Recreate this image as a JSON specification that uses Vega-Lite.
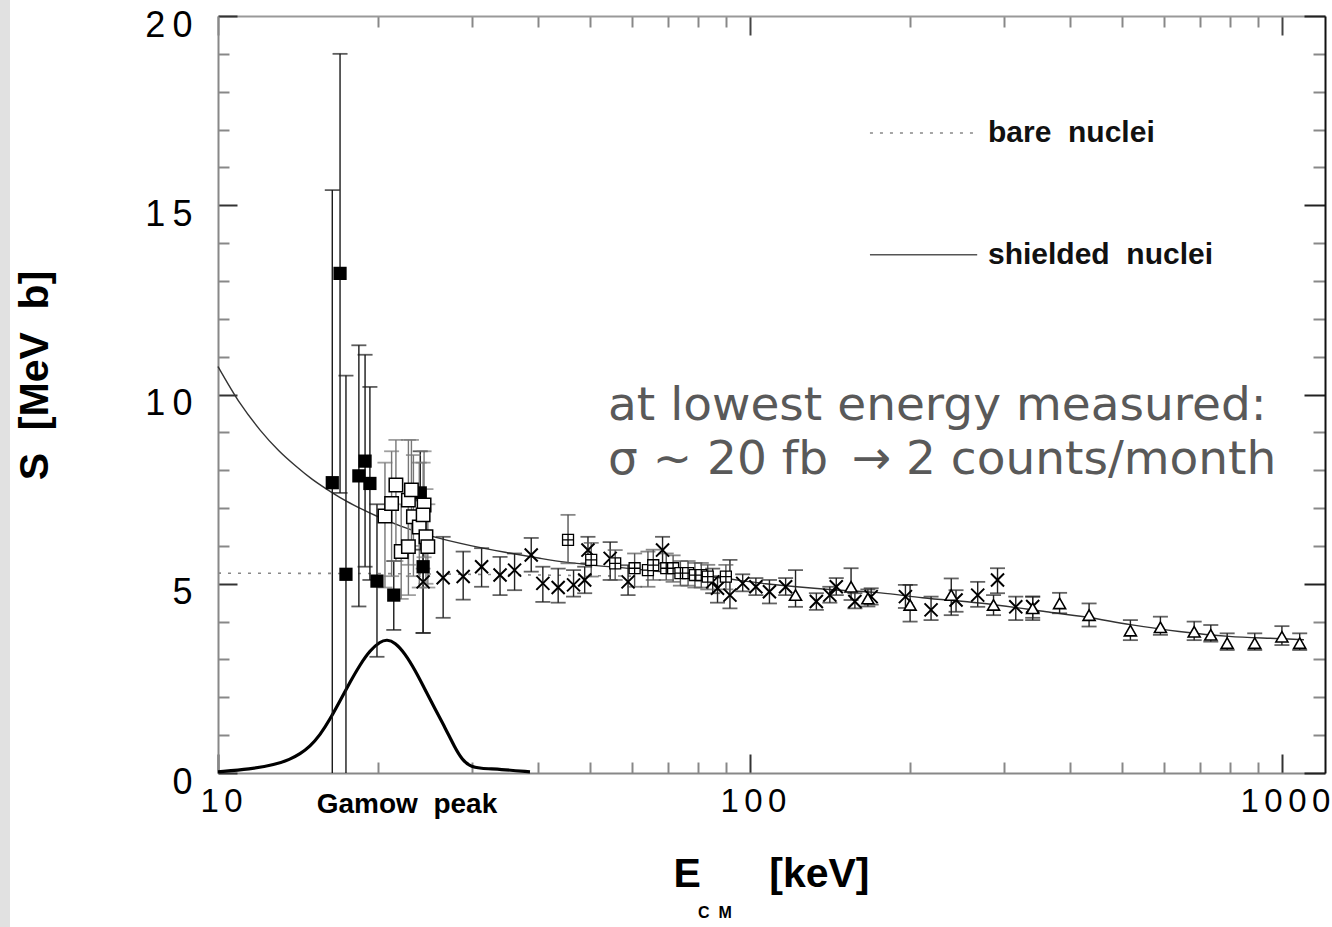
{
  "$schema": "https://vega.github.io/schema/vega-lite/v6.json",
  "width": 1107,
  "height": 757,
  "autosize": {"type": "none"},
  "padding": {"left": 218, "top": 16, "right": 7, "bottom": 154},
  "background": "#e1e1e1",
  "config": {"view": {"stroke": "#ffffff", "strokeWidth": 416, "fill": "#ffffff"}, "axis": {"grid": false}},
  "datasets": {
    "pts": [
      {"E": 16.4, "S": 7.67, "lo": -1, "hi": 15.4, "kind": "filled"},
      {"E": 16.96, "S": 13.2, "lo": 7.4, "hi": 19.0, "kind": "filled"},
      {"E": 17.4, "S": 5.25, "lo": -1, "hi": 10.5, "kind": "filled"},
      {"E": 18.4, "S": 7.85, "lo": 4.4, "hi": 11.3, "kind": "filled"},
      {"E": 18.9, "S": 8.24, "lo": 5.45, "hi": 11.05, "kind": "filled"},
      {"E": 19.3, "S": 7.65, "lo": 5.1, "hi": 10.2, "kind": "filled"},
      {"E": 19.9, "S": 5.07, "lo": 3.07, "hi": 7.1, "kind": "filled"},
      {"E": 21.4, "S": 4.7, "lo": 3.78, "hi": 5.6, "kind": "filled"},
      {"E": 24.3, "S": 5.45, "lo": 3.7, "hi": 7.2, "kind": "filled"},
      {"E": 24.0, "S": 7.4, "lo": 5.9, "hi": 8.5, "kind": "filled"},
      {"E": 20.6, "S": 6.79, "lo": 4.9, "hi": 8.2, "kind": "open"},
      {"E": 21.2, "S": 7.12, "lo": 5.2, "hi": 8.5, "kind": "open"},
      {"E": 21.6, "S": 7.61, "lo": 5.6, "hi": 8.8, "kind": "open"},
      {"E": 22.1, "S": 5.85, "lo": 4.6, "hi": 7.1, "kind": "open"},
      {"E": 22.8, "S": 7.21, "lo": 5.5, "hi": 8.8, "kind": "open"},
      {"E": 22.8, "S": 5.98, "lo": 4.7, "hi": 7.3, "kind": "open"},
      {"E": 23.1, "S": 7.48, "lo": 6.0, "hi": 8.8, "kind": "open"},
      {"E": 23.3, "S": 6.77, "lo": 5.2, "hi": 8.4, "kind": "open"},
      {"E": 23.9, "S": 6.5, "lo": 4.9, "hi": 8.2, "kind": "open"},
      {"E": 24.4, "S": 7.08, "lo": 5.7, "hi": 8.5, "kind": "open"},
      {"E": 24.3, "S": 6.82, "lo": 5.4, "hi": 8.2, "kind": "open"},
      {"E": 24.6, "S": 6.24, "lo": 5.0, "hi": 7.5, "kind": "open"},
      {"E": 24.8, "S": 5.98, "lo": 4.9, "hi": 7.1, "kind": "open"},
      {"E": 24.3, "S": 5.05, "lo": 3.7, "hi": 6.4, "kind": "cross"},
      {"E": 26.5, "S": 5.16, "lo": 4.1, "hi": 6.24, "kind": "cross"},
      {"E": 28.9, "S": 5.19, "lo": 4.58, "hi": 5.85, "kind": "cross"},
      {"E": 31.3, "S": 5.45, "lo": 4.92, "hi": 5.94, "kind": "cross"},
      {"E": 33.9, "S": 5.23, "lo": 4.7, "hi": 5.71, "kind": "cross"},
      {"E": 36.1, "S": 5.36, "lo": 4.83, "hi": 5.8, "kind": "cross"},
      {"E": 38.8, "S": 5.76, "lo": 5.32, "hi": 6.21, "kind": "cross"},
      {"E": 40.8, "S": 5.01, "lo": 4.52, "hi": 5.45, "kind": "cross"},
      {"E": 43.6, "S": 4.9, "lo": 4.5, "hi": 5.4, "kind": "cross"},
      {"E": 46.6, "S": 4.97, "lo": 4.66, "hi": 5.36, "kind": "cross"},
      {"E": 48.9, "S": 5.1, "lo": 4.75, "hi": 5.45, "kind": "cross"},
      {"E": 49.6, "S": 5.89, "lo": 5.54, "hi": 6.24, "kind": "cross"},
      {"E": 54.6, "S": 5.67, "lo": 5.1, "hi": 6.1, "kind": "cross"},
      {"E": 59.0, "S": 5.05, "lo": 4.7, "hi": 5.49, "kind": "cross"},
      {"E": 68.5, "S": 5.89, "lo": 5.54, "hi": 6.24, "kind": "cross"},
      {"E": 85.1, "S": 5.05, "lo": 4.75, "hi": 5.4, "kind": "cross"},
      {"E": 86.9, "S": 4.88, "lo": 4.5, "hi": 5.2, "kind": "cross"},
      {"E": 91.7, "S": 4.7, "lo": 4.35, "hi": 5.63, "kind": "cross"},
      {"E": 96.9, "S": 5.01, "lo": 4.8, "hi": 5.25, "kind": "cross"},
      {"E": 102.6, "S": 4.92, "lo": 4.7, "hi": 5.15, "kind": "cross"},
      {"E": 108.8, "S": 4.79, "lo": 4.48, "hi": 5.1, "kind": "cross"},
      {"E": 116.7, "S": 4.92, "lo": 4.7, "hi": 5.15, "kind": "cross"},
      {"E": 133.3, "S": 4.53, "lo": 4.31, "hi": 4.75, "kind": "cross"},
      {"E": 141.3, "S": 4.7, "lo": 4.5, "hi": 4.92, "kind": "cross"},
      {"E": 145.3, "S": 4.92, "lo": 4.7, "hi": 5.15, "kind": "cross"},
      {"E": 157.5, "S": 4.53, "lo": 4.35, "hi": 4.75, "kind": "cross"},
      {"E": 169, "S": 4.66, "lo": 4.45, "hi": 4.88, "kind": "cross"},
      {"E": 196, "S": 4.66, "lo": 4.36, "hi": 4.97, "kind": "cross"},
      {"E": 219, "S": 4.31, "lo": 4.04, "hi": 4.66, "kind": "cross"},
      {"E": 244, "S": 4.57, "lo": 4.26, "hi": 4.83, "kind": "cross"},
      {"E": 268, "S": 4.7, "lo": 4.39, "hi": 5.05, "kind": "cross"},
      {"E": 292, "S": 5.1, "lo": 4.75, "hi": 5.41, "kind": "cross"},
      {"E": 316, "S": 4.39, "lo": 4.04, "hi": 4.66, "kind": "cross"},
      {"E": 340, "S": 4.4, "lo": 4.1, "hi": 4.66, "kind": "cross"},
      {"E": 45.5, "S": 6.16, "lo": 5.54, "hi": 6.82, "kind": "boxed"},
      {"E": 50.3, "S": 5.63, "lo": 5.19, "hi": 6.08, "kind": "boxed"},
      {"E": 55.8, "S": 5.54, "lo": 5.1, "hi": 5.89, "kind": "boxed"},
      {"E": 60.7, "S": 5.41, "lo": 4.92, "hi": 5.8, "kind": "boxed"},
      {"E": 64.3, "S": 5.36, "lo": 4.92, "hi": 5.85, "kind": "boxed"},
      {"E": 65.8, "S": 5.49, "lo": 5.1, "hi": 5.9, "kind": "boxed"},
      {"E": 69.6, "S": 5.41, "lo": 5.1, "hi": 5.8, "kind": "boxed"},
      {"E": 71.7, "S": 5.41, "lo": 5.05, "hi": 5.75, "kind": "boxed"},
      {"E": 74.0, "S": 5.28, "lo": 4.95, "hi": 5.6, "kind": "boxed"},
      {"E": 76.5, "S": 5.28, "lo": 4.95, "hi": 5.6, "kind": "boxed"},
      {"E": 78.8, "S": 5.23, "lo": 4.9, "hi": 5.55, "kind": "boxed"},
      {"E": 81.0, "S": 5.23, "lo": 4.9, "hi": 5.55, "kind": "boxed"},
      {"E": 83.3, "S": 5.19, "lo": 4.85, "hi": 5.5, "kind": "boxed"},
      {"E": 90.1, "S": 5.19, "lo": 4.85, "hi": 5.5, "kind": "boxed"},
      {"E": 121.8, "S": 4.7, "lo": 4.39, "hi": 5.36, "kind": "tri"},
      {"E": 154.9, "S": 4.92, "lo": 4.57, "hi": 5.41, "kind": "tri"},
      {"E": 166.6, "S": 4.61, "lo": 4.4, "hi": 4.85, "kind": "tri"},
      {"E": 200, "S": 4.44, "lo": 4.0, "hi": 4.97, "kind": "tri"},
      {"E": 239, "S": 4.7, "lo": 4.17, "hi": 5.14, "kind": "tri"},
      {"E": 287, "S": 4.44, "lo": 4.17, "hi": 4.7, "kind": "tri"},
      {"E": 340, "S": 4.35, "lo": 4.04, "hi": 4.66, "kind": "tri"},
      {"E": 382, "S": 4.48, "lo": 4.22, "hi": 4.76, "kind": "tri"},
      {"E": 434, "S": 4.17, "lo": 3.87, "hi": 4.48, "kind": "tri"},
      {"E": 519, "S": 3.76, "lo": 3.51, "hi": 4.04, "kind": "tri"},
      {"E": 591, "S": 3.85, "lo": 3.65, "hi": 4.13, "kind": "tri"},
      {"E": 684, "S": 3.73, "lo": 3.51, "hi": 4.0, "kind": "tri"},
      {"E": 735, "S": 3.65, "lo": 3.47, "hi": 3.91, "kind": "tri"},
      {"E": 789, "S": 3.43, "lo": 3.25, "hi": 3.69, "kind": "tri"},
      {"E": 889, "S": 3.43, "lo": 3.25, "hi": 3.69, "kind": "tri"},
      {"E": 1000, "S": 3.6, "lo": 3.38, "hi": 3.88, "kind": "tri"},
      {"E": 1080, "S": 3.43, "lo": 3.25, "hi": 3.69, "kind": "tri"}
    ],
    "bare": [
      {"E": 10, "S": 5.28}, {"E": 20, "S": 5.27}, {"E": 35, "S": 5.24}, {"E": 60, "S": 5.2}
    ],
    "shield": [
      {"E": 10, "S": 10.74}, {"E": 11, "S": 9.77}, {"E": 12, "S": 9.06}, {"E": 13, "S": 8.52},
      {"E": 14, "S": 8.11}, {"E": 15, "S": 7.77}, {"E": 16, "S": 7.5}, {"E": 17, "S": 7.27},
      {"E": 18, "S": 7.08}, {"E": 20, "S": 6.77}, {"E": 22, "S": 6.53}, {"E": 25, "S": 6.27},
      {"E": 30, "S": 6.0}, {"E": 35, "S": 5.82}, {"E": 40, "S": 5.68}, {"E": 45, "S": 5.57},
      {"E": 50, "S": 5.5}, {"E": 60, "S": 5.4}, {"E": 70, "S": 5.3}, {"E": 86, "S": 5.17},
      {"E": 107, "S": 5.0}, {"E": 143, "S": 4.84}, {"E": 176, "S": 4.76}, {"E": 211, "S": 4.63},
      {"E": 270, "S": 4.49}, {"E": 361, "S": 4.26}, {"E": 428, "S": 4.12}, {"E": 519, "S": 3.92},
      {"E": 641, "S": 3.74}, {"E": 795, "S": 3.61}, {"E": 991, "S": 3.55}, {"E": 1100, "S": 3.52}
    ],
    "gamow": [
      {"E": 10, "G": 0.03}, {"E": 11.49, "G": 0.1}, {"E": 12.8, "G": 0.22}, {"E": 13.66, "G": 0.36},
      {"E": 14.26, "G": 0.5}, {"E": 14.89, "G": 0.7}, {"E": 15.55, "G": 1.0}, {"E": 16.24, "G": 1.42},
      {"E": 16.96, "G": 1.91}, {"E": 17.71, "G": 2.4}, {"E": 18.49, "G": 2.86}, {"E": 19.31, "G": 3.24},
      {"E": 20.16, "G": 3.47}, {"E": 20.78, "G": 3.53}, {"E": 21.51, "G": 3.45}, {"E": 22.46, "G": 3.16},
      {"E": 23.46, "G": 2.72}, {"E": 24.5, "G": 2.21}, {"E": 25.58, "G": 1.69}, {"E": 26.72, "G": 1.2},
      {"E": 27.9, "G": 0.66}, {"E": 28.75, "G": 0.36}, {"E": 29.77, "G": 0.17}, {"E": 31.09, "G": 0.12},
      {"E": 33.89, "G": 0.1}, {"E": 38.59, "G": 0.03}
    ]
  },
  "layer": [
    {
      "data": {"name": "bare"},
      "mark": {"type": "line", "color": "#888888", "strokeWidth": 1.6, "strokeDash": [3, 7]},
      "encoding": {
        "x": {
          "field": "E", "type": "quantitative",
          "scale": {"type": "log", "domain": [10, 1205], "nice": false},
          "axis": {
            "orient": "bottom",
            "values": [10, 20, 30, 40, 50, 60, 70, 80, 90, 100, 200, 300, 400, 500, 600, 700, 800, 900, 1000],
            "tickSize": {"condition": {"test": "datum.value == 10 || datum.value == 100 || datum.value == 1000", "value": -19}, "value": -11},
            "tickColor": {"condition": {"test": "datum.value == 10 || datum.value == 100 || datum.value == 1000", "value": "#333333"}, "value": "#888888"},
            "tickWidth": 2,
            "domainColor": "#888888",
            "domainWidth": 2,
            "labelExpr": "datum.value == 10 ? '1\u20060' : datum.value == 100 ? '1\u20060\u20060' : datum.value == 1000 ? '1\u20060\u20060\u20060' : ''",
            "labelFont": "Liberation Sans",
            "labelFontSize": 33,
            "labelColor": "#000000",
            "labelBaseline": "middle",
            "labelPadding": 47,
            "labelOffset": 3,
            "labelFlush": false,
            "labelOverlap": false,
            "title": "E\u00a0\u00a0\u00a0\u00a0\u00a0\u00a0[keV]",
            "titleFont": "Liberation Sans",
            "titleFontSize": 41,
            "titleFontWeight": "bold",
            "titleColor": "#000000",
            "titleBaseline": "alphabetic",
            "titleX": 553,
            "titleY": 113
          }
        },
        "y": {
          "field": "S", "type": "quantitative",
          "scale": {"domain": [0, 20], "nice": false, "zero": false},
          "axis": {
            "orient": "left",
            "values": [0, 1, 2, 3, 4, 5, 6, 7, 8, 9, 10, 11, 12, 13, 14, 15, 16, 17, 18, 19, 20],
            "tickSize": {"condition": {"test": "datum.value % 5 == 0", "value": -19}, "value": -11},
            "tickColor": {"condition": {"test": "datum.value % 5 == 0", "value": "#333333"}, "value": "#888888"},
            "tickWidth": 2,
            "domainColor": "#888888",
            "domainWidth": 2,
            "labelExpr": "datum.value == 0 ? '0' : datum.value == 5 ? '5' : datum.value == 10 ? '1\u20090' : datum.value == 15 ? '1\u20095' : datum.value == 20 ? '2\u20090' : ''",
            "labelFont": "Liberation Sans",
            "labelFontSize": 36,
            "labelColor": "#000000",
            "labelAlign": "right",
            "labelBaseline": "middle",
            "labelPadding": 45,
            "labelOffset": 9,
            "labelFlush": false,
            "labelOverlap": false,
            "title": "S\u00a0\u00a0[MeV\u00a0\u00a0b]",
            "titleFont": "Liberation Sans",
            "titleFontSize": 41,
            "titleFontWeight": "bold",
            "titleColor": "#000000",
            "titleAngle": 270,
            "titleAlign": "center",
            "titleBaseline": "middle",
            "titleX": -183,
            "titleY": 359
          }
        }
      }
    },
    {
      "data": {"name": "shield"},
      "mark": {"type": "line", "color": "#333333", "strokeWidth": 1.4, "interpolate": "monotone"},
      "encoding": {
        "x": {
          "field": "E", "type": "quantitative",
          "scale": {"type": "log", "domain": [10, 1205], "nice": false},
          "axis": {
            "orient": "top",
            "values": [10, 20, 30, 40, 50, 60, 70, 80, 90, 100, 200, 300, 400, 500, 600, 700, 800, 900, 1000],
            "tickSize": {"condition": {"test": "datum.value == 10 || datum.value == 100 || datum.value == 1000", "value": -19}, "value": -11},
            "tickColor": {"condition": {"test": "datum.value == 100 || datum.value == 1000", "value": "#444444"}, "value": "#888888"},
            "tickWidth": 2,
            "domainColor": "#999999",
            "domainWidth": 2,
            "labels": false,
            "title": null
          }
        },
        "y": {
          "field": "S", "type": "quantitative",
          "scale": {"domain": [0, 20], "nice": false, "zero": false},
          "axis": {
            "orient": "right",
            "values": [0, 1, 2, 3, 4, 5, 6, 7, 8, 9, 10, 11, 12, 13, 14, 15, 16, 17, 18, 19, 20],
            "tickSize": {"condition": {"test": "datum.value % 5 == 0", "value": -21}, "value": -12},
            "tickColor": {"condition": {"test": "datum.value % 5 == 0", "value": "#222222"}, "value": "#888888"},
            "tickWidth": 2,
            "domainColor": "#111111",
            "domainWidth": 2,
            "labels": false,
            "title": null
          }
        }
      }
    },
    {
      "data": {"name": "gamow"},
      "mark": {"type": "line", "color": "#000000", "strokeWidth": 3.2, "interpolate": "basis"},
      "encoding": {
        "x": {"field": "E", "type": "quantitative", "scale": {"type": "log", "domain": [10, 1205], "nice": false}, "axis": null},
        "y": {"field": "G", "type": "quantitative", "scale": {"domain": [0, 20], "nice": false, "zero": false}, "axis": null}
      }
    },
    {
      "data": {"name": "pts"},
      "mark": {"type": "rule", "strokeWidth": 1.4, "clip": true},
      "encoding": {
        "x": {"field": "E", "type": "quantitative", "scale": {"type": "log", "domain": [10, 1205], "nice": false}, "axis": null},
        "y": {"field": "lo", "type": "quantitative", "scale": {"domain": [0, 20], "nice": false, "zero": false}, "axis": null},
        "y2": {"field": "hi"},
        "color": {"field": "kind", "type": "nominal", "legend": null,
          "scale": {"domain": ["filled", "open", "cross", "boxed", "tri"], "range": ["#1a1a1a", "#777777", "#222222", "#555555", "#222222"]}}
      }
    },
    {
      "data": {"name": "pts"},
      "mark": {"type": "tick", "orient": "horizontal", "size": 15, "thickness": 1.8, "clip": true},
      "encoding": {
        "x": {"field": "E", "type": "quantitative", "scale": {"type": "log", "domain": [10, 1205], "nice": false}, "axis": null},
        "y": {"field": "hi", "type": "quantitative", "scale": {"domain": [0, 20], "nice": false, "zero": false}, "axis": null},
        "color": {"field": "kind", "type": "nominal", "legend": null,
          "scale": {"domain": ["filled", "open", "cross", "boxed", "tri"], "range": ["#1a1a1a", "#777777", "#222222", "#555555", "#222222"]}}
      }
    },
    {
      "data": {"name": "pts"},
      "mark": {"type": "tick", "orient": "horizontal", "size": 15, "thickness": 1.8, "clip": true},
      "encoding": {
        "x": {"field": "E", "type": "quantitative", "scale": {"type": "log", "domain": [10, 1205], "nice": false}, "axis": null},
        "y": {"field": "lo", "type": "quantitative", "scale": {"domain": [0, 20], "nice": false, "zero": false}, "axis": null},
        "color": {"field": "kind", "type": "nominal", "legend": null,
          "scale": {"domain": ["filled", "open", "cross", "boxed", "tri"], "range": ["#1a1a1a", "#777777", "#222222", "#555555", "#222222"]}}
      }
    },
    {
      "data": {"name": "pts"},
      "transform": [{"filter": "datum.kind == 'filled'"}],
      "mark": {"type": "point", "shape": "square", "filled": true, "color": "#000000", "size": 175, "opacity": 1},
      "encoding": {
        "x": {"field": "E", "type": "quantitative", "scale": {"type": "log", "domain": [10, 1205], "nice": false}, "axis": null},
        "y": {"field": "S", "type": "quantitative", "scale": {"domain": [0, 20], "nice": false, "zero": false}, "axis": null}
      }
    },
    {
      "data": {"name": "pts"},
      "transform": [{"filter": "datum.kind == 'open'"}],
      "mark": {"type": "point", "shape": "square", "fill": "#ffffff", "stroke": "#000000", "strokeWidth": 1.5, "size": 180, "opacity": 1, "fillOpacity": 1},
      "encoding": {
        "x": {"field": "E", "type": "quantitative", "scale": {"type": "log", "domain": [10, 1205], "nice": false}, "axis": null},
        "y": {"field": "S", "type": "quantitative", "scale": {"domain": [0, 20], "nice": false, "zero": false}, "axis": null}
      }
    },
    {
      "data": {"name": "pts"},
      "transform": [{"filter": "datum.kind == 'cross'"}],
      "mark": {"type": "point", "shape": "M-1,-1L1,1M-1,1L1,-1", "filled": false, "stroke": "#000000", "strokeWidth": 2, "size": 170, "opacity": 1},
      "encoding": {
        "x": {"field": "E", "type": "quantitative", "scale": {"type": "log", "domain": [10, 1205], "nice": false}, "axis": null},
        "y": {"field": "S", "type": "quantitative", "scale": {"domain": [0, 20], "nice": false, "zero": false}, "axis": null}
      }
    },
    {
      "data": {"name": "pts"},
      "transform": [{"filter": "datum.kind == 'boxed'"}],
      "mark": {"type": "point", "shape": "M-1,-1H1V1H-1ZM-1,0H1M0,-1V1", "fill": "#ffffff", "stroke": "#000000", "strokeWidth": 1.3, "size": 120, "opacity": 1, "fillOpacity": 1},
      "encoding": {
        "x": {"field": "E", "type": "quantitative", "scale": {"type": "log", "domain": [10, 1205], "nice": false}, "axis": null},
        "y": {"field": "S", "type": "quantitative", "scale": {"domain": [0, 20], "nice": false, "zero": false}, "axis": null}
      }
    },
    {
      "data": {"name": "pts"},
      "transform": [{"filter": "datum.kind == 'tri'"}],
      "mark": {"type": "point", "shape": "triangle-up", "fill": "#ffffff", "stroke": "#000000", "strokeWidth": 1.6, "size": 145, "opacity": 1, "fillOpacity": 1},
      "encoding": {
        "x": {"field": "E", "type": "quantitative", "scale": {"type": "log", "domain": [10, 1205], "nice": false}, "axis": null},
        "y": {"field": "S", "type": "quantitative", "scale": {"domain": [0, 20], "nice": false, "zero": false}, "axis": null}
      }
    },
    {
      "data": {"values": [{}]},
      "mark": {"type": "rule", "color": "#888888", "strokeWidth": 1.6, "strokeDash": [3, 7]},
      "encoding": {
        "x": {"datum": 168.1, "type": "quantitative", "scale": {"type": "log", "domain": [10, 1205], "nice": false}, "axis": null},
        "x2": {"datum": 264.9},
        "y": {"datum": 16.91, "type": "quantitative", "scale": {"domain": [0, 20], "nice": false, "zero": false}, "axis": null}
      }
    },
    {
      "data": {"values": [{}]},
      "mark": {"type": "rule", "color": "#555555", "strokeWidth": 1.5},
      "encoding": {
        "x": {"datum": 168.1, "type": "quantitative", "scale": {"type": "log", "domain": [10, 1205], "nice": false}, "axis": null},
        "x2": {"datum": 267.4},
        "y": {"datum": 13.69, "type": "quantitative", "scale": {"domain": [0, 20], "nice": false, "zero": false}, "axis": null}
      }
    },
    {
      "data": {"values": [{"t": "bare\u00a0\u00a0nuclei", "lx": 280.2, "ly": 16.91}, {"t": "shielded\u00a0\u00a0nuclei", "lx": 280.2, "ly": 13.69}]},
      "mark": {"type": "text", "font": "Liberation Sans", "fontSize": 30, "fontWeight": "bold", "color": "#111111", "align": "left", "baseline": "middle"},
      "encoding": {
        "x": {"field": "lx", "type": "quantitative", "scale": {"type": "log", "domain": [10, 1205], "nice": false}, "axis": null},
        "y": {"field": "ly", "type": "quantitative", "scale": {"domain": [0, 20], "nice": false, "zero": false}, "axis": null},
        "text": {"field": "t"}
      }
    },
    {
      "data": {"values": [{}]},
      "mark": {"type": "text", "text": "Gamow\u00a0\u00a0peak", "font": "Liberation Sans", "fontSize": 28, "fontWeight": "bold", "color": "#000000", "align": "center", "baseline": "middle"},
      "encoding": {
        "x": {"datum": 22.66, "type": "quantitative", "scale": {"type": "log", "domain": [10, 1205], "nice": false}, "axis": null},
        "y": {"datum": -0.85, "type": "quantitative", "scale": {"domain": [0, 20], "nice": false, "zero": false}, "axis": null}
      }
    },
    {
      "data": {"values": [{}]},
      "mark": {"type": "text", "text": "C\u00a0\u00a0M", "font": "Liberation Sans", "fontSize": 16, "fontWeight": "bold", "color": "#000000", "align": "center", "baseline": "middle"},
      "encoding": {
        "x": {"datum": 85.9, "type": "quantitative", "scale": {"type": "log", "domain": [10, 1205], "nice": false}, "axis": null},
        "y": {"datum": -3.7, "type": "quantitative", "scale": {"domain": [0, 20], "nice": false, "zero": false}, "axis": null}
      }
    },
    {
      "data": {"values": [{"t": "at lowest energy measured:", "ly": 9.33}, {"t": "σ ~ 20 fb\u2002→\u00a02 counts/month", "ly": 7.9}]},
      "mark": {"type": "text", "font": "DejaVu Sans", "fontSize": 47, "color": "#595959", "align": "left", "baseline": "alphabetic"},
      "encoding": {
        "x": {"datum": 54.1, "type": "quantitative", "scale": {"type": "log", "domain": [10, 1205], "nice": false}, "axis": null},
        "y": {"field": "ly", "type": "quantitative", "scale": {"domain": [0, 20], "nice": false, "zero": false}, "axis": null},
        "text": {"field": "t"}
      }
    }
  ],
  "resolve": {"axis": {"x": "independent", "y": "independent"}}
}
